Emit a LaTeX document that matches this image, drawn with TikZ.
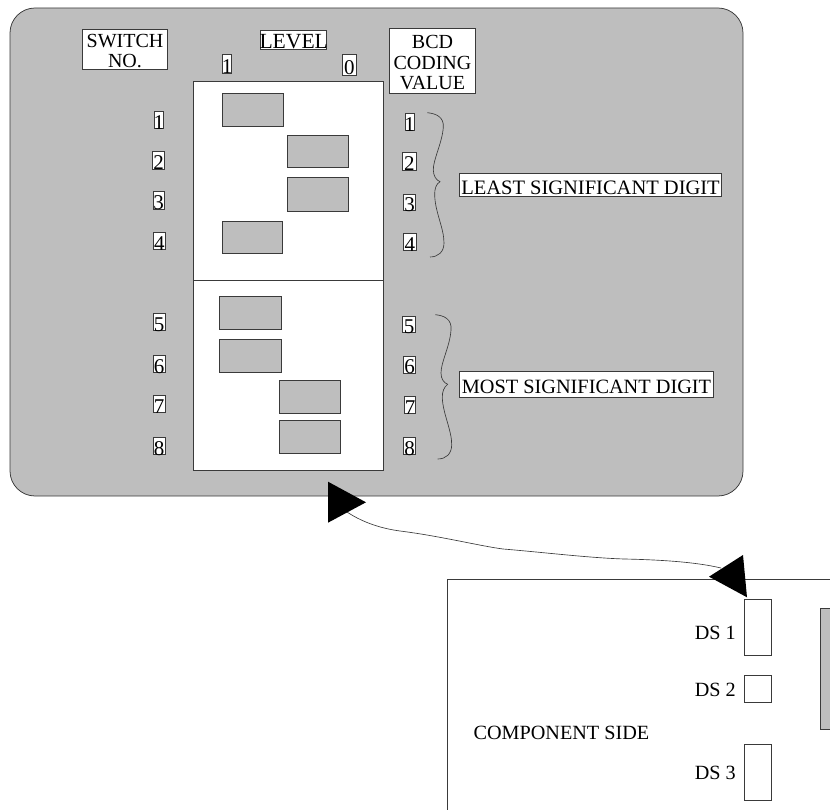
\documentclass[tikz,border=0pt]{standalone}
\usepackage{fontspec}
\setmainfont{Liberation Serif}
\definecolor{panelgray}{HTML}{BEBEBE}
\definecolor{inkline}{HTML}{3A3A3A}
\tikzset{
  ln/.style={draw=inkline,line width=0.75pt},
  panel/.style={ln,fill=panelgray,rounded corners=25pt},
  whitebox/.style={ln,fill=white,inner sep=0pt},
  graybox/.style={ln,fill=panelgray,inner sep=0pt},
  boxtext/.style={inner sep=0pt,align=center,text=black,font=\fontsize{20}{20.4}\selectfont,yshift=-2pt},
  digit/.style={boxtext,font=\fontsize{21}{21}\selectfont,yshift=-0.5pt},
  plaintext/.style={inner sep=0pt,font=\fontsize{20.2}{20}\selectfont,text=black},
  brace/.style={draw=inkline,line width=0.65pt},
  link/.style={draw=inkline,line width=0.65pt}
}
% name, x1, y1, x2, y2, style
\newcommand{\rectnode}[6]{%
  \pgfmathsetmacro{\cxv}{(#2+#4)/2}\pgfmathsetmacro{\cyv}{(#3+#5)/2}%
  \pgfmathsetmacro{\wdv}{#4-#2}\pgfmathsetmacro{\htv}{#5-#3}%
  \node[#6,minimum width=\wdv pt,minimum height=\htv pt] (#1) at (\cxv,\cyv) {};}
% name, x1, y1, x2, y2, text style, text
\newcommand{\textbox}[7]{%
  \rectnode{#1}{#2}{#3}{#4}{#5}{whitebox}%
  \node[#6] (#1t) at (#1.center) {#7};}
\begin{document}
\begin{tikzpicture}[x=1pt,y=-1pt]
\useasboundingbox (0,0) rectangle (830,810);
% main panel
\draw[panel] (10,8) rectangle (743,496);
\rectnode{grid}{193.7}{81.3}{383.3}{470}{whitebox}
\coordinate (divL) at (grid.west |- 0,280.5);
\coordinate (divR) at (grid.east |- 0,280.5);
\draw[ln] (divL) -- (divR);
% headers
\textbox{switchno}{82.7}{29}{167.3}{69}{boxtext}{SWITCH\\NO.}
\textbox{level}{260.7}{30.7}{326.7}{49.3}{boxtext,font=\fontsize{21.6}{21.6}\selectfont,yshift=0pt}{LEVEL}
\textbox{lvlone}{222.3}{54.7}{231.7}{73.3}{digit}{1}
\textbox{lvlzero}{342.3}{54.7}{356.3}{75.7}{digit}{0}
\textbox{bcd}{389.3}{28.3}{475.7}{93.3}{boxtext}{BCD\\CODING\\VALUE}
% switch positions
\rectnode{p1}{222}{93.3}{283.7}{126}{graybox}
\rectnode{p2}{287.3}{135.3}{348.3}{167.7}{graybox}
\rectnode{p3}{287.3}{177.7}{348.3}{211}{graybox}
\rectnode{p4}{222}{221}{282.7}{253.7}{graybox}
\rectnode{p5}{219}{296}{281}{329}{graybox}
\rectnode{p6}{219}{339}{281}{372}{graybox}
\rectnode{p7}{279}{380}{340}{413}{graybox}
\rectnode{p8}{279}{420}{340}{453}{graybox}
% left numbers
\textbox{sa}{154.3}{111.3}{163.3}{128.3}{digit}{1}
\textbox{sb}{152.7}{151.7}{164.7}{169}{digit}{2}
\textbox{sc}{153}{191.7}{164}{209}{digit}{3}
\textbox{sd}{153}{232}{165.7}{249.3}{digit}{4}
\textbox{se}{153}{313.5}{165}{330.5}{digit}{5}
\textbox{sf}{153}{355.5}{165}{372.5}{digit}{6}
\textbox{sg}{153}{395.5}{165}{412.5}{digit}{7}
\textbox{sh}{153}{437.5}{165}{454.5}{digit}{8}
% right numbers
\textbox{ra}{405}{113.3}{414}{130}{digit}{1}
\textbox{rb}{402.7}{152.7}{416}{170}{digit}{2}
\textbox{rc}{403.7}{194}{415.7}{210.7}{digit}{3}
\textbox{rd}{403.7}{233.3}{416}{250.7}{digit}{4}
\textbox{re}{402.3}{316}{415.7}{332}{digit}{5}
\textbox{rf}{403.7}{356}{415.7}{373.3}{digit}{6}
\textbox{rg}{404.3}{396.7}{415.7}{413.3}{digit}{7}
\textbox{rh}{403.7}{437.7}{415.7}{454.7}{digit}{8}
% digit labels
\textbox{lsd}{459.3}{173.3}{721.7}{196.7}{boxtext,font=\fontsize{20.5}{20.5}\selectfont,yshift=-0.8pt}{LEAST SIGNIFICANT DIGIT}
\textbox{msd}{459.3}{371.7}{713.7}{397.3}{boxtext,font=\fontsize{20.3}{20.3}\selectfont,yshift=0pt}{MOST SIGNIFICANT DIGIT}
% braces
\draw[brace] (427.3,112.7) .. controls (436,113.5) and (444,117) .. (443.3,127)
  .. controls (442.5,142) and (433,160) .. (433.3,170)
  .. controls (433.5,176) and (436,180) .. (440,181.7)
  .. controls (436,184) and (434.5,189) .. (434.7,195)
  .. controls (435,212) and (444,228) .. (444,243)
  .. controls (444,252) and (438,257) .. (430,257);
\draw[brace] (435.3,314.7) .. controls (444,315.5) and (452,319) .. (451,330)
  .. controls (450,346) and (441,362) .. (441,373)
  .. controls (441,379) and (444,383) .. (447.7,384.3)
  .. controls (444,387) and (442,392) .. (442.3,398)
  .. controls (443,414) and (452,431) .. (451.7,445)
  .. controls (451.5,454) and (446,459) .. (437.7,459);
% board
\coordinate (boardBL) at (447,810);
\coordinate (boardTL) at (447,579);
\coordinate (boardTR) at (830,579);
\draw[ln] (boardBL) -- (boardTL) -- (boardTR);
\rectnode{ds1}{744.6}{599.3}{771.6}{655.3}{whitebox}
\rectnode{ds2}{744.6}{675.3}{771.6}{702.3}{whitebox}
\rectnode{ds3}{744.6}{744.3}{771.6}{800}{whitebox}
\coordinate (chipTL) at (820.6,608.3);
\coordinate (chipTR) at (830,608.3);
\coordinate (chipBR) at (830,729);
\coordinate (chipBL) at (820.6,729);
\draw[ln,fill=panelgray] (chipTR) -- (chipTL) -- (chipBL) -- (chipBR);
\node[plaintext,anchor=east] (ds1lab) at (736,632.7) {DS 1};
\node[plaintext,anchor=east] (ds2lab) at (736,690) {DS 2};
\node[plaintext,anchor=east] (ds3lab) at (736,773) {DS 3};
\node[plaintext,anchor=west] (comp) at (473.4,733) {COMPONENT SIDE};
% connector with large heads
\coordinate (linkA) at (347,512);
\coordinate (linkB) at (721,568);
\draw[link] (linkA) .. controls (365,524) and (385,529) .. (400,531)
  .. controls (440,536) and (480,546) .. (503,549)
  .. controls (540,552) and (590,558) .. (624.5,559)
  .. controls (670,560) and (700,563) .. (linkB);
\coordinate (ha1) at (328,481.7);
\coordinate (ha2) at (366,502.3);
\coordinate (ha3) at (328,522.7);
\fill[black] (ha1) -- (ha2) -- (ha3) -- cycle;
\coordinate (hb1) at (709,576.7);
\coordinate (hb2) at (743,555);
\coordinate (hb3) at (747,597.3);
\fill[black] (hb1) -- (hb2) -- (hb3) -- cycle;
\end{tikzpicture}
\end{document}
